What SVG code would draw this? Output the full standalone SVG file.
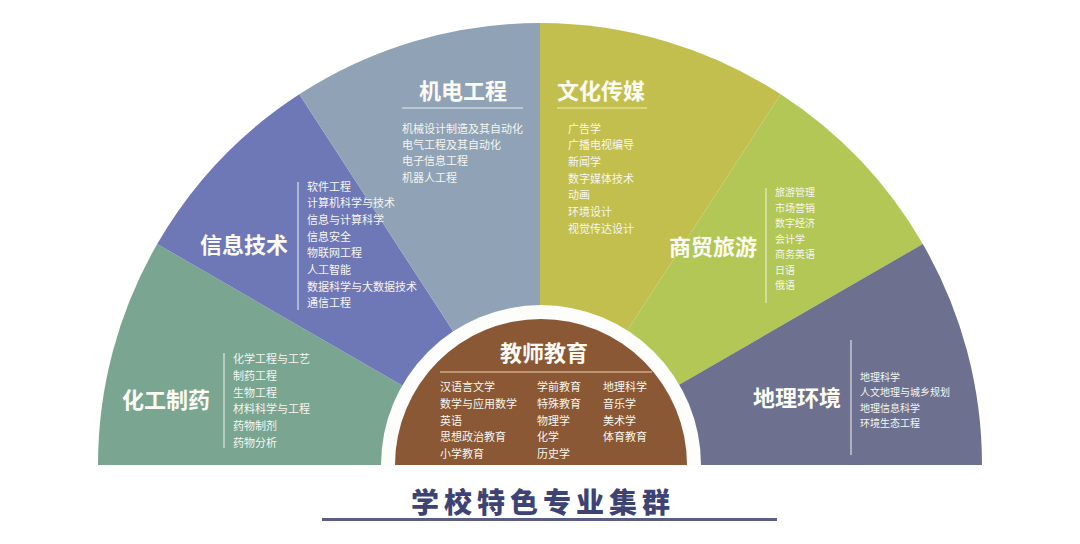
<svg xmlns="http://www.w3.org/2000/svg" width="1080" height="544" viewBox="0 0 1080 544">
<style>
.t{font-family:"Noto Sans CJK SC","Noto Sans",sans-serif;font-weight:700;font-size:22px;fill:#fbfbf4;text-anchor:middle}
.i{font-family:"Noto Sans CJK SC","Noto Sans",sans-serif;font-size:11px;fill:#f6f6f0}
.s{font-size:10px}
.sep{stroke:#f2f2ee;stroke-width:1.2;opacity:0.85}
</style>
<rect width="1080" height="544" fill="#ffffff"/>
<g id="sectors">
<g id="huagong">
<path d="M540 465 L98 465 A442 442 0 0 1 157.2 244 Z" fill="#79a591"/>
</g>
<g id="xinxi">
<path d="M540 465 L157.2 244 A442 442 0 0 1 299.3 94.3 Z" fill="#6e78b7"/>
</g>
<g id="jidian">
<path d="M540 465 L299.3 94.3 A442 442 0 0 1 540 23 Z" fill="#8fa2b6"/>
</g>
<g id="wenhua">
<path d="M540 465 L540 23 A442 442 0 0 1 780.7 94.3 Z" fill="#c2bf4f"/>
</g>
<g id="shangmao">
<path d="M540 465 L780.7 94.3 A442 442 0 0 1 922.8 244 Z" fill="#b2c755"/>
</g>
<g id="dili">
<path d="M540 465 L922.8 244 A442 442 0 0 1 982 465 Z" fill="#6d718f"/>
</g>
</g>
<g id="center">
<path d="M381 465 A160 160 0 0 1 701 465 Z" fill="#fdfdfb"/>
<path d="M395 465 A146 146 0 0 1 687 465 Z" fill="#8a5834"/>
</g>
<g id="n-jidian">
<text class="t" x="463" y="99">机电工程</text>
<line x1="402" y1="108" x2="523" y2="108" stroke="#e6ecf3" stroke-width="1.2"/>
<text class="i" x="402" y="132.5">机械设计制造及其自动化</text>
<text class="i" x="402" y="148.5">电气工程及其自动化</text>
<text class="i" x="402" y="165">电子信息工程</text>
<text class="i" x="402" y="181.5">机器人工程</text>
</g>
<g id="n-wenhua">
<text class="t" x="601" y="99">文化传媒</text>
<line x1="557" y1="108" x2="647" y2="108" stroke="#f3efa2" stroke-width="1.2"/>
<text class="i" x="568" y="132.5">广告学</text>
<text class="i" x="568" y="149.2">广播电视编导</text>
<text class="i" x="568" y="165.9">新闻学</text>
<text class="i" x="568" y="182.6">数字媒体技术</text>
<text class="i" x="568" y="199.3">动画</text>
<text class="i" x="568" y="216">环境设计</text>
<text class="i" x="568" y="232.7">视觉传达设计</text>
</g>
<g id="n-xinxi">
<text class="t" x="244" y="253">信息技术</text>
<line class="sep" x1="298" y1="182" x2="298" y2="310"/>
<text class="i" x="307" y="190.5">软件工程</text>
<text class="i" x="307" y="207.2">计算机科学与技术</text>
<text class="i" x="307" y="223.9">信息与计算科学</text>
<text class="i" x="307" y="240.6">信息安全</text>
<text class="i" x="307" y="257.3">物联网工程</text>
<text class="i" x="307" y="274">人工智能</text>
<text class="i" x="307" y="290.7">数据科学与大数据技术</text>
<text class="i" x="307" y="307.4">通信工程</text>
</g>
<g id="n-shangmao">
<text class="t" x="713" y="255">商贸旅游</text>
<line class="sep" x1="766" y1="188" x2="766" y2="303"/>
<text class="i s" x="775" y="196">旅游管理</text>
<text class="i s" x="775" y="211.5">市场营销</text>
<text class="i s" x="775" y="227">数字经济</text>
<text class="i s" x="775" y="242.5">会计学</text>
<text class="i s" x="775" y="258">商务英语</text>
<text class="i s" x="775" y="273.5">日语</text>
<text class="i s" x="775" y="289">俄语</text>
</g>
<g id="n-huagong">
<text class="t" x="166" y="408">化工制药</text>
<line class="sep" x1="224" y1="353" x2="224" y2="448"/>
<text class="i" x="233" y="363">化学工程与工艺</text>
<text class="i" x="233" y="379.8">制药工程</text>
<text class="i" x="233" y="396.6">生物工程</text>
<text class="i" x="233" y="413.4">材料科学与工程</text>
<text class="i" x="233" y="430.2">药物制剂</text>
<text class="i" x="233" y="447">药物分析</text>
</g>
<g id="n-dili">
<text class="t" x="797" y="406">地理环境</text>
<line class="sep" x1="851" y1="340" x2="851" y2="455"/>
<text class="i s" x="860" y="381">地理科学</text>
<text class="i s" x="860" y="396.4">人文地理与城乡规划</text>
<text class="i s" x="860" y="411.8">地理信息科学</text>
<text class="i s" x="860" y="427.2">环境生态工程</text>
</g>
<g id="n-jiaoshi">
<text class="t" x="544" y="361">教师教育</text>
<line x1="440" y1="372" x2="652" y2="372" stroke="#f3d2ae" stroke-width="1.2"/>
<text class="i" x="440" y="391">汉语言文学</text>
<text class="i" x="440" y="407.8">数学与应用数学</text>
<text class="i" x="440" y="424.6">英语</text>
<text class="i" x="440" y="441.4">思想政治教育</text>
<text class="i" x="440" y="458.2">小学教育</text>
<text class="i" x="537" y="391">学前教育</text>
<text class="i" x="537" y="407.8">特殊教育</text>
<text class="i" x="537" y="424.6">物理学</text>
<text class="i" x="537" y="441.4">化学</text>
<text class="i" x="537" y="458.2">历史学</text>
<text class="i" x="603" y="391">地理科学</text>
<text class="i" x="603" y="407.8">音乐学</text>
<text class="i" x="603" y="424.6">美术学</text>
<text class="i" x="603" y="441.4">体育教育</text>
</g>
<g id="title">
<text x="543" y="513" font-family="'Noto Sans CJK SC','Noto Sans',sans-serif" font-weight="900" font-size="28" fill="#3d4374" text-anchor="middle" letter-spacing="5">学校特色专业集群</text>
<line x1="322" y1="519.5" x2="777" y2="519.5" stroke="#5a5e85" stroke-width="3"/>
</g>
</svg>
